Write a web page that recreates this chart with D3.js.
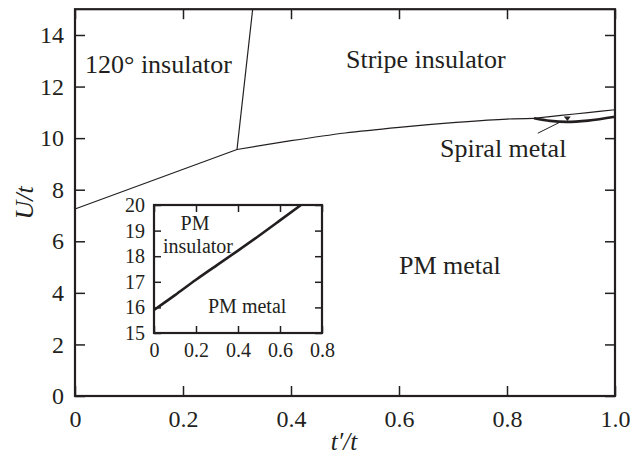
<!DOCTYPE html>
<html>
<head>
<meta charset="utf-8">
<script src="https://cdn.jsdelivr.net/npm/d3@7"></script>
<style>
  body { margin: 0; background: #fff; }
  svg { display: block; }
  text { font-family: "Liberation Serif", "Times New Roman", serif; fill: #231f20; }
</style>
</head>
<body>
<div id="chart"></div>
<script>
// Main phase diagram: t'/t vs U/t
const xTicks = [0, 0.2, 0.4, 0.6, 0.8, 1.0];
const yTicks = [0, 2, 4, 6, 8, 10, 12, 14];

// PM metal / insulator boundary (straight part, then curved part)
const boundaryLeftT = [0, 0.3];
const boundaryLeftU = [7.25, 9.56];
const boundaryRightT = [0.3, 0.4, 0.5, 0.6, 0.7, 0.8, 0.85];
const boundaryRightU = [9.56, 9.9, 10.2, 10.42, 10.6, 10.74, 10.77];

// 120° / stripe boundary
const verticalT = [0.3, 0.329];
const verticalU = [9.56, 15];

// spiral metal region
const spiralUpperT = [0.85, 0.9, 0.95, 1.0];
const spiralUpperU = [10.77, 10.88, 10.99, 11.1];
const spiralLowerT = [0.85, 0.88, 0.91, 0.95, 1.0];
const spiralLowerU = [10.77, 10.67, 10.63, 10.68, 10.83];

// inset: PM metal / PM insulator
const insetXTicks = [0, 0.2, 0.4, 0.6, 0.8];
const insetYTicks = [15, 16, 17, 18, 19, 20];
const insetT = [0, 0.1, 0.2, 0.3, 0.4, 0.5, 0.6, 0.7];
const insetU = [15.9, 16.48, 17.08, 17.65, 18.22, 18.8, 19.4, 20.0];

const width = 642, height = 457;
const ink = "#231f20";

const svg = d3.select("#chart").append("svg")
  .attr("width", width).attr("height", height);

const x = d3.scaleLinear().domain([0, 1]).range([75, 615]);
const y = d3.scaleLinear().domain([0, 15]).range([396, 9.2]);

const zip = (a, b) => a.map((v, i) => [v, b[i]]);
const xFmt = d => d === 0 ? "0" : d3.format(".1f")(d);

function frame(g, xs, ys, xt, yt, tick, fs, xPad, yPad) {
  const [x0, x1] = xs.range();
  const [y0, y1] = ys.range();
  g.append("g").attr("transform", `translate(0,${y0})`)
    .call(d3.axisBottom(xs).tickValues(xt).tickSizeInner(-tick)
      .tickSizeOuter(0).tickPadding(xPad).tickFormat(xFmt));
  g.append("g").attr("transform", `translate(0,${y1})`)
    .call(d3.axisTop(xs).tickValues(xt).tickSizeInner(-tick)
      .tickSizeOuter(0).tickFormat(""));
  g.append("g").attr("transform", `translate(${x0},0)`)
    .call(d3.axisLeft(ys).tickValues(yt).tickSizeInner(-tick)
      .tickSizeOuter(0).tickPadding(yPad).tickFormat(d3.format("d")));
  g.append("g").attr("transform", `translate(${x1},0)`)
    .call(d3.axisRight(ys).tickValues(yt).tickSizeInner(-tick)
      .tickSizeOuter(0).tickFormat(""));
  g.selectAll(".domain").remove();
  g.selectAll(".tick line").attr("stroke", ink).attr("stroke-width", 1.5);
  g.selectAll(".tick text").attr("font-size", fs).attr("fill", ink);
  g.append("rect")
    .attr("x", x0).attr("y", y1)
    .attr("width", x1 - x0).attr("height", y0 - y1)
    .attr("fill", "none").attr("stroke", ink).attr("stroke-width", 2.2);
}

const main = svg.append("g");
frame(main, x, y, xTicks, yTicks, 10, 24, 14, 11);

const line = d3.line().x(d => x(d[0])).y(d => y(d[1]));
const curve = d3.line().x(d => x(d[0])).y(d => y(d[1])).curve(d3.curveMonotoneX);

main.append("path").attr("d", line(zip(boundaryLeftT, boundaryLeftU)))
  .attr("fill", "none").attr("stroke", ink).attr("stroke-width", 1.2);
main.append("path").attr("d", curve(zip(boundaryRightT, boundaryRightU)))
  .attr("fill", "none").attr("stroke", ink).attr("stroke-width", 1.2);
main.append("path").attr("d", line(zip(verticalT, verticalU)))
  .attr("fill", "none").attr("stroke", ink).attr("stroke-width", 1.2);
main.append("path").attr("d", curve(zip(spiralUpperT, spiralUpperU)))
  .attr("fill", "none").attr("stroke", ink).attr("stroke-width", 1.2);
main.append("path").attr("d", curve(zip(spiralLowerT, spiralLowerU)))
  .attr("fill", "none").attr("stroke", ink).attr("stroke-width", 2.6);

// pointer to spiral region
main.append("line")
  .attr("x1", x(0.857)).attr("y1", y(10.19))
  .attr("x2", x(0.9)).attr("y2", y(10.64))
  .attr("stroke", ink).attr("stroke-width", 1);
main.append("path")
  .attr("d", `M${x(0.905)},${y(10.84)} L${x(0.918)},${y(10.84)} L${x(0.912)},${y(10.66)} Z`)
  .attr("fill", ink);

// region labels
const lab = (g, tx, ty, s, fs) => g.append("text")
  .attr("x", tx).attr("y", ty).attr("font-size", fs).text(s);
lab(main, 85, 73, "120° insulator", 26);
lab(main, 346, 68, "Stripe insulator", 26);
lab(main, 440, 157, "Spiral metal", 26);
lab(main, 399, 274, "PM metal", 26);

// axis titles
svg.append("text")
  .attr("x", 344).attr("y", 450).attr("text-anchor", "middle")
  .attr("font-size", 25).attr("font-style", "italic").text("t\u2032/t");
svg.append("text")
  .attr("transform", "translate(33,203) rotate(-90)")
  .attr("text-anchor", "middle")
  .attr("font-size", 26).attr("font-style", "italic").text("U/t");

// inset
const ix = d3.scaleLinear().domain([0, 0.8]).range([154, 322]);
const iy = d3.scaleLinear().domain([15, 20]).range([333, 205]);
const inset = svg.append("g");
inset.append("rect").attr("x", 154).attr("y", 205).attr("width", 168).attr("height", 128)
  .attr("fill", "#fff");
frame(inset, ix, iy, insetXTicks, insetYTicks, 7, 20, 10, 9);
inset.append("path")
  .attr("d", d3.line().x(d => ix(d[0])).y(d => iy(d[1])).curve(d3.curveNatural)(zip(insetT, insetU)))
  .attr("fill", "none").attr("stroke", ink).attr("stroke-width", 2.6);
inset.append("text").attr("x", 195).attr("y", 230).attr("text-anchor", "middle")
  .attr("font-size", 20).text("PM");
inset.append("text").attr("x", 163).attr("y", 253).attr("font-size", 20).text("insulator");
inset.append("text").attr("x", 208).attr("y", 313).attr("font-size", 20).text("PM metal");
</script>
</body>
</html>
